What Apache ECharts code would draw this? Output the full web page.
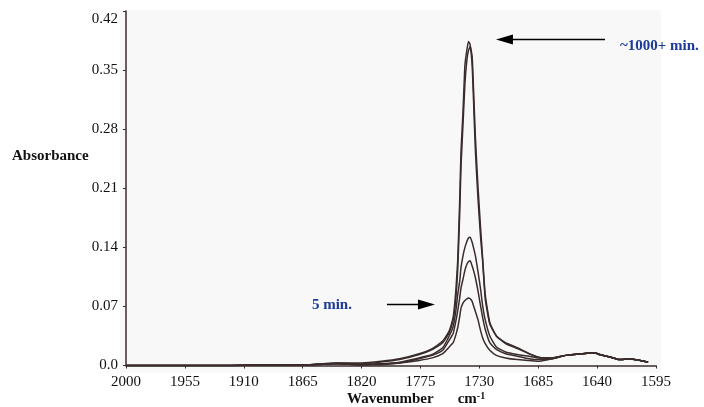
<!DOCTYPE html>
<html>
<head>
<meta charset="utf-8">
<script src="https://cdn.jsdelivr.net/npm/echarts@6/dist/echarts.min.js"></script>
<style>
  html, body { margin: 0; padding: 0; background: #ffffff; }
  #chart { width: 704px; height: 407px; }
</style>
</head>
<body>
<div id="chart"></div>
<script>
// Wavenumber grid (cm-1) shared by all spectra
const wavenumbers = [2000, 1960, 1920, 1881, 1860, 1839, 1820, 1805, 1791, 1776, 1766, 1758, 1753, 1750, 1748, 1746.5, 1745, 1744, 1742.5, 1741, 1739.5, 1738.3, 1737, 1735.5, 1734.5, 1733, 1731, 1729, 1727.5, 1725.5, 1722, 1717, 1710, 1701, 1692, 1684, 1674, 1664, 1651, 1642, 1638, 1630, 1623, 1615, 1607, 1601];

// Absorbance spectra, latest (~1000+ min) to earliest (5 min)
const spectrumLatest = [0, 0, 0, 0.001, 0.001, 0.003, 0.003, 0.005, 0.008, 0.014, 0.020, 0.029, 0.041, 0.057, 0.088, 0.125, 0.196, 0.254, 0.300, 0.356, 0.374, 0.384, 0.380, 0.356, 0.317, 0.254, 0.197, 0.151, 0.124, 0.079, 0.049, 0.035, 0.027, 0.021, 0.014, 0.0095, 0.009, 0.012, 0.014, 0.015, 0.013, 0.010, 0.007, 0.008, 0.006, 0.004];
const spectrumLate = [0, 0, 0, 0.001, 0.001, 0.003, 0.002, 0.004, 0.007, 0.013, 0.019, 0.027, 0.039, 0.054, 0.079, 0.114, 0.180, 0.236, 0.285, 0.334, 0.362, 0.373, 0.378, 0.366, 0.330, 0.270, 0.211, 0.162, 0.128, 0.084, 0.051, 0.035, 0.026, 0.020, 0.014, 0.0095, 0.009, 0.012, 0.014, 0.015, 0.013, 0.010, 0.007, 0.008, 0.006, 0.004];
const spectrumMid = [0, 0, 0, 0.001, 0.001, 0.002, 0.001, 0.002, 0.004, 0.009, 0.013, 0.021, 0.035, 0.046, 0.064, 0.084, 0.100, 0.116, 0.130, 0.140, 0.147, 0.151, 0.152, 0.146, 0.140, 0.130, 0.111, 0.090, 0.071, 0.054, 0.035, 0.022, 0.016, 0.013, 0.011, 0.009, 0.009, 0.012, 0.014, 0.015, 0.013, 0.010, 0.007, 0.008, 0.006, 0.004];
const spectrumEarly = [0, 0, 0, 0.001, 0.001, 0.002, 0.001, 0.002, 0.003, 0.008, 0.012, 0.018, 0.030, 0.038, 0.052, 0.065, 0.080, 0.092, 0.102, 0.113, 0.120, 0.123, 0.124, 0.118, 0.113, 0.104, 0.088, 0.070, 0.057, 0.043, 0.027, 0.019, 0.014, 0.011, 0.008, 0.007, 0.008, 0.012, 0.014, 0.015, 0.013, 0.010, 0.007, 0.008, 0.006, 0.004];
const spectrum5min = [0, 0, 0, 0.001, 0.001, 0.002, 0.001, 0.001, 0.003, 0.006, 0.009, 0.014, 0.022, 0.027, 0.036, 0.045, 0.058, 0.068, 0.074, 0.077, 0.079, 0.080, 0.079, 0.076, 0.071, 0.064, 0.054, 0.041, 0.033, 0.026, 0.018, 0.012, 0.009, 0.007, 0.006, 0.005, 0.008, 0.012, 0.014, 0.015, 0.013, 0.010, 0.007, 0.008, 0.006, 0.004];

// Axis ticks
const xTicks = [2000, 1955, 1910, 1865, 1820, 1775, 1730, 1685, 1640, 1595];
const yTicks = [0, 0.07, 0.14, 0.21, 0.28, 0.35, 0.42];

// Annotation texts
const labelLatest = '~1000+ min.';
const labelFirst = '5 min.';

const serif = 'Liberation Serif, Times New Roman, serif';
const inkColor = '#3a2c2c';
const noteColor = '#1c3a99';

const pairs = ys => wavenumbers.map((w, i) => [w, ys[i]]);

const lineSeries = (ys, extra) => Object.assign({
  type: 'line',
  data: pairs(ys),
  showSymbol: false,
  smooth: 0.15,
  lineStyle: { color: inkColor, width: 1.5 },
  silent: true,
  animation: false
}, extra || {});

const arrowLine = (from, to) => [
  { coord: from, symbol: 'none' },
  { coord: to, symbol: 'triangle', symbolSize: [10, 17] }
];

const yLabel = v => {
  const s = v < 1e-9 ? '0.0' : v.toFixed(2);
  // the top label sits a little below its tick
  return v > yTicks[yTicks.length - 1] - 1e-9 ? '{top|' + s + '}' : s;
};

const chart = echarts.init(document.getElementById('chart'), null, { renderer: 'canvas' });

chart.setOption({
  backgroundColor: '#ffffff',
  animation: false,
  grid: { left: 126, right: 48, top: 11, bottom: 41.5 },
  graphic: {
    elements: [
      {
        type: 'rect', z: -10, silent: true,
        shape: { x: 120, y: 10, width: 541, height: 363 },
        style: { fill: '#f8f8f8' }
      },
      {
        type: 'text', left: 12, top: 149, silent: true,
        style: { text: 'Absorbance', font: 'bold 15px ' + serif, fill: '#111' }
      },
      {
        type: 'text', left: 347, top: 391, silent: true,
        style: {
          text: '{a|Wavenumber}{c|cm}{s|-1}',
          rich: {
            a: { font: 'bold 15px ' + serif, fill: '#111' },
            c: { font: 'bold 15px ' + serif, fill: '#111', padding: [0, 0, 0, 24] },
            s: { font: 'bold 10px ' + serif, fill: '#111', verticalAlign: 'top', padding: [0, 0, 6, 0] }
          }
        }
      }
    ]
  },
  xAxis: {
    type: 'value',
    inverse: true,
    min: 1595,
    max: 2000,
    axisLine: { show: true, lineStyle: { color: inkColor, width: 1.5 } },
    axisTick: { show: true, length: 3, customValues: xTicks, lineStyle: { color: inkColor } },
    axisLabel: {
      customValues: xTicks, margin: 9,
      fontFamily: serif, fontSize: 15, color: '#111',
      formatter: v => String(Math.round(v))
    },
    splitLine: { show: false }
  },
  yAxis: {
    type: 'value',
    min: 0,
    max: 0.42,
    interval: 0.07,
    axisLine: { show: true, lineStyle: { color: inkColor, width: 1.5 } },
    axisTick: { show: true, length: 3, lineStyle: { color: inkColor } },
    axisLabel: {
      margin: 8, fontFamily: serif, fontSize: 15, color: '#111',
      formatter: yLabel,
      rich: { top: { fontFamily: serif, fontSize: 15, color: '#111', padding: [16, 0, 0, 0] } }
    },
    splitLine: { show: false }
  },
  series: [
    lineSeries(spectrum5min, {
      markLine: {
        silent: true, animation: false,
        lineStyle: { color: '#000', width: 1.3, type: 'solid' },
        label: { show: false },
        data: [arrowLine([1800.6, 0.0723], [1770.4, 0.0723])]
      },
      markPoint: {
        silent: true, animation: false,
        symbol: 'circle', symbolSize: 0,
        label: {
          show: true, position: 'right', distance: 0, formatter: '{b}',
          fontFamily: serif, fontWeight: 'bold', fontSize: 15, color: noteColor
        },
        data: [{ name: labelFirst, coord: [1857.9, 0.0714] }]
      }
    }),
    lineSeries(spectrumEarly),
    lineSeries(spectrumMid),
    lineSeries(spectrumLate),
    lineSeries(spectrumLatest, {
      markLine: {
        silent: true, animation: false,
        lineStyle: { color: '#000', width: 1.3, type: 'solid' },
        label: { show: false },
        data: [arrowLine([1634, 0.3863], [1710.8, 0.3863])]
      },
      markPoint: {
        silent: true, animation: false,
        symbol: 'circle', symbolSize: 0,
        label: {
          show: true, position: 'right', distance: 0, formatter: '{b}',
          fontFamily: serif, fontWeight: 'bold', fontSize: 15, color: noteColor
        },
        data: [{ name: labelLatest, coord: [1622.5, 0.378] }]
      }
    })
  ]
});
</script>
</body>
</html>
